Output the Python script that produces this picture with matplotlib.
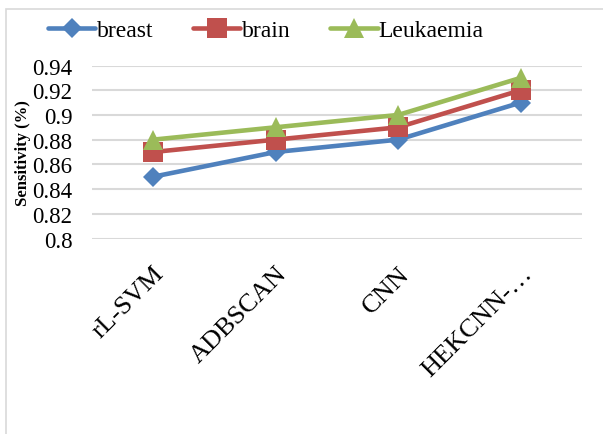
import matplotlib
matplotlib.use("Agg")
import matplotlib.pyplot as plt
from matplotlib.patches import Rectangle
from matplotlib.transforms import ScaledTranslation

methods = ["rL-SVM", "ADBSCAN", "CNN", "HEKCNN-…"]
breast = [0.85, 0.87, 0.88, 0.91]
brain = [0.87, 0.88, 0.89, 0.92]
leukaemia = [0.88, 0.89, 0.90, 0.93]
y_ticks = [0.8, 0.82, 0.84, 0.86, 0.88, 0.9, 0.92, 0.94]
y_tick_labels = ["0.8", "0.82", "0.84", "0.86", "0.88", "0.9", "0.92", "0.94"]

plt.rcParams["font.family"] = ["Liberation Serif", "DejaVu Serif"]

W, H = 603, 435
fig = plt.figure(figsize=(W / 100, H / 100), dpi=100)

# chart frame
fig.patches.append(Rectangle((6 / W, -0.1), 1.2, 1 - 10 / H + 0.1,
                             transform=fig.transFigure, fill=False,
                             edgecolor="#D9D9D9", linewidth=1.2))

ax = fig.add_axes([92 / W, 1 - 239.5 / H, 490 / W, 173 / H])
x = [i + 0.5 for i in range(len(methods))]

series = [
    ("breast", breast, "#4F81BD", "D", 10),
    ("brain", brain, "#C0504D", "s", 14),
    ("Leukaemia", leukaemia, "#9BBB59", "^", 14),
]
for name, vals, color, marker, ms in series:
    ax.plot(x, vals, color=color, linewidth=3.3, marker=marker,
            markersize=ms, markeredgewidth=0, label=name, zorder=3,
            solid_capstyle="round")

ax.set_xlim(0, len(methods))
ax.set_ylim(0.8, 0.94)
ax.set_yticks(y_ticks)
ax.set_yticklabels(y_tick_labels, fontsize=16.5)
ax.set_xticks(x)
ax.set_xticklabels(methods, fontsize=19, rotation=45, ha="right",
                   va="top", rotation_mode="anchor")
shift = ScaledTranslation(3 / 72, 0, fig.dpi_scale_trans)
for lbl in ax.get_xticklabels():
    lbl.set_transform(lbl.get_transform() + shift)
ax.tick_params(axis="both", length=0)
ax.tick_params(axis="x", pad=17)
ax.tick_params(axis="y", pad=14)
ax.grid(axis="y", color="#D9D9D9", linewidth=1.5)
ax.set_axisbelow(True)
for s in ax.spines.values():
    s.set_visible(False)

fig.text(23 / W, 1 - 153 / H, "Sensitivity (%)", rotation=90, fontsize=12,
         fontweight="bold", ha="center", va="center")

fig.legend(loc="center", bbox_to_anchor=(266 / W, 1 - 31 / H), ncol=3,
           frameon=False, fontsize=17, handlelength=2.0, columnspacing=1.7,
           handletextpad=0.05, borderaxespad=0)

fig.savefig("out.png", dpi=100)
